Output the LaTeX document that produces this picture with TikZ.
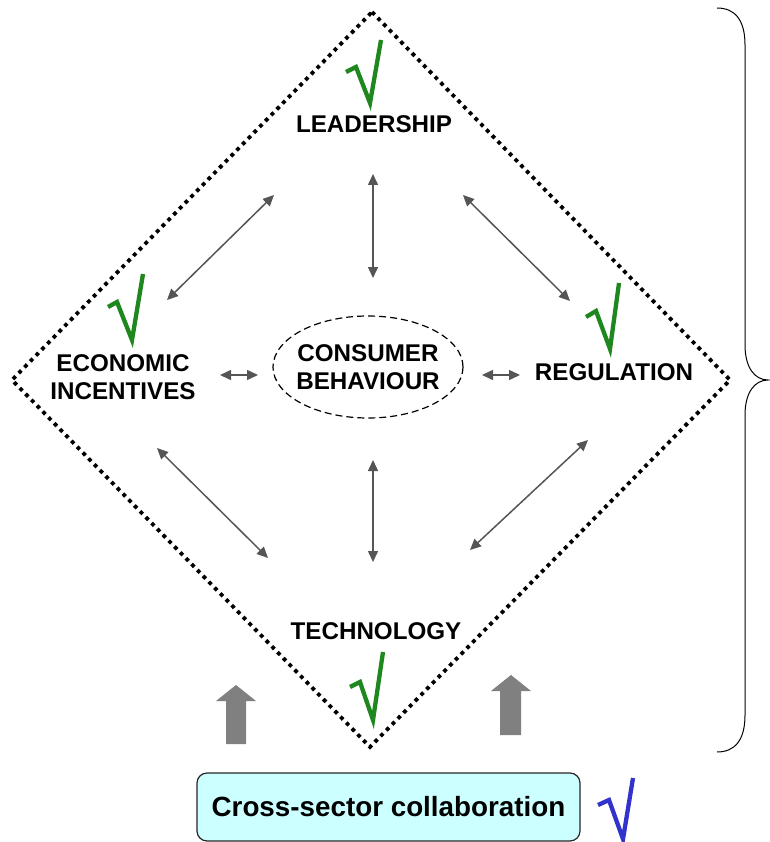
\documentclass[tikz,border=0pt]{standalone}
\usepackage{fontspec}
\setmainfont{Liberation Sans}
\usetikzlibrary{arrows.meta,shapes.geometric}
\definecolor{chk}{RGB}{30,135,30}
\definecolor{chkblue}{RGB}{50,50,205}
\definecolor{arr}{RGB}{85,85,85}
\definecolor{blk}{RGB}{128,128,128}
\definecolor{boxfill}{RGB}{204,255,255}
\begin{document}
\begin{tikzpicture}[x=1pt,y=-1pt,
  lbl/.style={font=\fontsize{24.2}{27.5}\selectfont\bfseries, align=center, inner sep=0pt},
  link/.style={draw=arr, line width=1.5pt, {Triangle[length=11pt,width=10pt]}-{Triangle[length=11pt,width=10pt]}},
  tick/.style={line width=4.3pt, line join=miter, line cap=butt},
  block/.style={fill=blk, draw=none},
  frame/.style={line width=3.8pt, dash pattern=on 3.8pt off 4.4pt}]
\useasboundingbox (0,0) rectangle (769,842);

% diamond frame
\coordinate (dT) at (372,12);
\coordinate (dR) at (730,380);
\coordinate (dB) at (370,747);
\coordinate (dL) at (12,380);
\draw[frame] (dT) -- (dR) -- (dB) -- (dL) -- cycle;

% labels
\node[lbl] (lead) at (374,124) {LEADERSHIP};
\node[lbl] (econ) at (123,377) {ECONOMIC\\INCENTIVES};
\node[lbl] (reg) at (614,372) {REGULATION};
\node[lbl] (tech) at (376,631) {TECHNOLOGY};
\node[lbl] (cons) at (368,367) {CONSUMER\\BEHAVIOUR};
\draw[line width=1.2pt, dash pattern=on 7pt off 4pt] (cons.center) ellipse [x radius=95, y radius=51];

% connector end points
\coordinate (a1) at (274,195); \coordinate (b1) at (167,300);
\coordinate (a2) at (373,174); \coordinate (b2) at (373,278);
\coordinate (a3) at (463,195); \coordinate (b3) at (570,301);
\coordinate (a4) at (220,375); \coordinate (b4) at (258,375);
\coordinate (a5) at (482,375); \coordinate (b5) at (520,375);
\coordinate (a6) at (157,448); \coordinate (b6) at (268,558);
\coordinate (a7) at (373,460); \coordinate (b7) at (373,562);
\coordinate (a8) at (588,440); \coordinate (b8) at (470,550);
\foreach \i in {1,...,8} {\draw[link] (a\i) -- (b\i);}

% check marks
\draw[tick, draw=chk] (346,72) -- (356,67) -- (370,103) -- (381,40);
\draw[tick, draw=chk] (108,307) -- (117,302) -- (132,340) -- (143,274);
\draw[tick, draw=chk] (586,317) -- (596,311) -- (610,349) -- (619,283);
\draw[tick, draw=chk] (350,687) -- (360,682) -- (373,720) -- (383,652);
\draw[tick, draw=chkblue] (598,805) -- (609,800) -- (623,839) -- (633,778);

% block arrows
\fill[block] (226,744) -- (226,701) -- (216,701) -- (236,685) -- (256,701) -- (246,701) -- (246,744) -- cycle;
\fill[block] (500,735) -- (500,691) -- (491,691) -- (511,675) -- (531,691) -- (521,691) -- (521,735) -- cycle;

% bottom box
\node[draw=black!85, line width=1.2pt, fill=boxfill, rounded corners=10pt,
  minimum width=383pt, minimum height=68pt, inner sep=0pt,
  font=\fontsize{27.8}{30}\selectfont\bfseries] (collab) at (388.5,807) {Cross-sector collaboration};

% brace
\draw[line width=1pt] (717,8) .. controls (735,8) and (745,20) .. (745,45) -- (745,345)
  .. controls (745,368) and (755,380) .. (768,380)
  .. controls (755,380) and (745,392) .. (745,415) -- (745,715)
  .. controls (745,740) and (735,752) .. (717,752);
\end{tikzpicture}
\end{document}
